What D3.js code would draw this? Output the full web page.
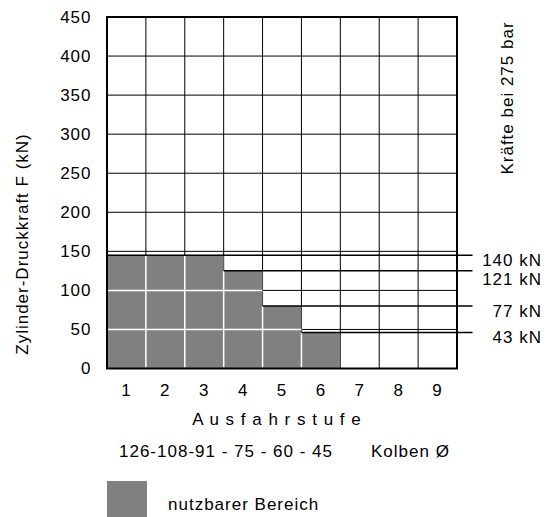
<!DOCTYPE html>
<html>
<head>
<meta charset="utf-8">
<script src="https://cdn.jsdelivr.net/npm/d3@7"></script>
<style>
  html, body { margin: 0; padding: 0; background: #fff; }
  svg { display: block; }
  text { font-family: "Liberation Sans", Arial, sans-serif; font-size: 17px; letter-spacing: 1px; fill: #000; }
</style>
</head>
<body>
<svg id="chart" width="548" height="517"></svg>
<script>
// ---- data ----
const stages = [1, 2, 3, 4, 5, 6, 7, 8, 9];
const usableForce = [145, 145, 145, 125, 80, 46, 0, 0, 0];   // top of usable area per stage (kN, chart scale)
const forceLabels = [140, 121, 77, 43];                        // annotated forces (kN)
const yTicks = [0, 50, 100, 150, 200, 250, 300, 350, 400, 450];
const yTitle = "Zylinder-Druckkraft F (kN)";
const xTitle = "A u s f a h r s t u f e";
const pistonText = "126-108-91 - 75 - 60 - 45";
const pistonLabel = "Kolben Ø";
const sideTitle = "Kräfte bei 275 bar";
const legendText = "nutzbarer Bereich";

// ---- layout ----
const svg = d3.select("#chart");
const L = 107, R = 457, T = 17, B = 368.5;
const x = d3.scaleBand().domain(stages).range([L, R]).padding(0);
const y = d3.scaleLinear().domain([0, 450]).range([B, T]);
const gray = "#808080";

// black grid
const grid = svg.append("g");
grid.selectAll("line.v").data(stages.slice(1)).enter().append("line")
  .attr("x1", d => x(d)).attr("x2", d => x(d))
  .attr("y1", T).attr("y2", B)
  .attr("stroke", "#000").attr("stroke-width", 1);
grid.selectAll("line.h").data(yTicks.slice(1, -1)).enter().append("line")
  .attr("x1", L).attr("x2", R)
  .attr("y1", d => y(d)).attr("y2", d => y(d))
  .attr("stroke", "#000").attr("stroke-width", 1);

// usable area
const data = stages.map((s, i) => ({ s, v: usableForce[i] }));
svg.append("g").selectAll("rect").data(data.filter(d => d.v > 0)).enter().append("rect")
  .attr("x", d => x(d.s)).attr("width", x.bandwidth())
  .attr("y", d => y(d.v)).attr("height", d => y(0) - y(d.v))
  .attr("fill", gray);

// white grid inside usable area
const wg = svg.append("g");
for (let i = 0; i < data.length - 1; i++) {
  const m = Math.min(data[i].v, data[i + 1].v);
  if (m > 0) {
    wg.append("line")
      .attr("x1", x(data[i + 1].s)).attr("x2", x(data[i + 1].s))
      .attr("y1", y(0) - 1).attr("y2", y(m))
      .attr("stroke", "#fff").attr("stroke-width", 1.5);
  }
}
yTicks.slice(1, -1).forEach(t => {
  data.forEach(d => {
    if (d.v > t) {
      wg.append("line")
        .attr("x1", x(d.s)).attr("x2", x(d.s) + x.bandwidth())
        .attr("y1", y(t)).attr("y2", y(t))
        .attr("stroke", "#fff").attr("stroke-width", 1.5);
    }
  });
});

// step lines with force annotations
const steps = [];
data.forEach((d, i) => {
  if (d.v > 0 && (i === 0 || data[i - 1].v !== d.v)) steps.push({ s: d.s, v: d.v });
});
steps.forEach((d, i) => { d.label = forceLabels[i]; });
const lineEnd = R + 15.5;
svg.append("g").selectAll("line").data(steps).enter().append("line")
  .attr("x1", d => x(d.s)).attr("x2", lineEnd)
  .attr("y1", d => y(d.v)).attr("y2", d => y(d.v))
  .attr("stroke", "#000").attr("stroke-width", 1.5);
let prev = -Infinity;
steps.forEach(d => {
  let by = Math.max(y(d.v) + 10.5, prev + 19);
  d.by = by; prev = by;
});
svg.append("g").selectAll("text").data(steps).enter().append("text")
  .attr("x", 542).attr("y", d => d.by)
  .attr("text-anchor", "end")
  .text(d => d.label + " kN");

// frame
svg.append("rect").attr("x", L).attr("y", T).attr("width", R - L).attr("height", B - T)
  .attr("fill", "none").attr("stroke", "#000").attr("stroke-width", 2);

// axes (labels only)
const yAxis = svg.append("g").attr("transform", `translate(${L},0)`)
  .call(d3.axisLeft(y).tickValues(yTicks).tickSize(0).tickPadding(15.5));
yAxis.select(".domain").remove();
yAxis.attr("font-family", null).attr("font-size", null);

const xAxis = svg.append("g").attr("transform", `translate(0,${B})`)
  .call(d3.axisBottom(x).tickSize(0).tickPadding(15.5));
xAxis.select(".domain").remove();
xAxis.attr("font-family", null).attr("font-size", null);

// titles
svg.append("text").attr("transform", "translate(28,244) rotate(-90)")
  .attr("text-anchor", "middle").text(yTitle);
svg.append("text").attr("transform", "translate(512.5,98) rotate(-90)")
  .attr("text-anchor", "middle").text(sideTitle);
svg.append("text").attr("x", 277).attr("y", 425).attr("text-anchor", "middle").text(xTitle);
svg.append("text").attr("x", 119).attr("y", 457).text(pistonText);
svg.append("text").attr("x", 371).attr("y", 457).text(pistonLabel);

// legend
svg.append("rect").attr("x", 107).attr("y", 481).attr("width", 40).attr("height", 40).attr("fill", gray);
svg.append("text").attr("x", 168).attr("y", 510).text(legendText);
</script>
</body>
</html>
